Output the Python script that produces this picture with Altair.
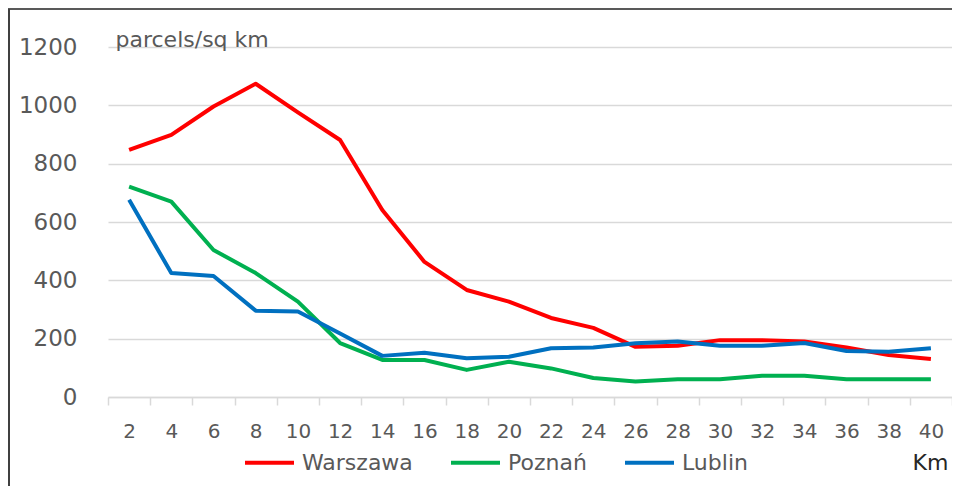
import altair as alt
import pandas as pd

km = list(range(2, 41, 2))
warszawa = [847, 899, 996, 1074, 976, 881, 641, 463, 367, 327, 271, 237, 172, 176, 195, 195, 190, 170, 144, 130]
poznan = [721, 670, 504, 425, 327, 185, 127, 127, 93, 121, 98, 65, 53, 61, 61, 73, 73, 61, 61, 61]
lublin = [676, 425, 415, 296, 293, 218, 141, 152, 133, 138, 167, 170, 184, 190, 176, 176, 185, 158, 155, 167]
series = ["Warszawa", "Poznań", "Lublin"]
colors = ["#ff0000", "#00b050", "#0070c0"]
y_ticks = [0, 200, 400, 600, 800, 1000, 1200]

rows = []
for name, vals in zip(series, [warszawa, poznan, lublin]):
    for k, v in zip(km, vals):
        rows.append({"km": k, "value": v, "city": name})
df = pd.DataFrame(rows)

FONT = "DejaVu Sans"

lines = alt.Chart(df).mark_line(strokeWidth=4, strokeJoin="round").encode(
    x=alt.X(
        "km:O",
        bandPosition=0.5,
        scale=alt.Scale(type="band", paddingInner=0, paddingOuter=0),
        axis=alt.Axis(
            title="Km", titleX=822, titleY=72, titleAlign="center", titleBaseline="alphabetic",
            titleFontSize=22, titleFontWeight="normal", titleColor="#262626",
            labelAngle=0, labelFontSize=20, labelColor="#595959", labelPadding=16,
            tickBand="extent", ticks=True, tickSize=8, tickColor="#d9d9d9", tickWidth=1.5,
            domainColor="#d9d9d9", domainWidth=1.5, grid=False,
        ),
    ),
    y=alt.Y(
        "value:Q",
        scale=alt.Scale(domain=[0, 1200], nice=False),
        axis=alt.Axis(
            values=y_ticks, format="d", title="parcels/sq km", titleAngle=0, titleAlign="left",
            titleBaseline="alphabetic", titleX=7, titleY=-1, titleFontSize=22,
            titleFontWeight="normal", titleColor="#595959",
            domain=False, ticks=False, grid=True, gridColor="#d9d9d9", gridWidth=1.5,
            labelPadding=31, labelFontSize=23, labelColor="#595959",
        ),
    ),
    color=alt.Color(
        "city:N",
        sort=series,
        scale=alt.Scale(domain=series, range=colors),
        legend=alt.Legend(
            title=None, orient="none", legendX=135, legendY=389, direction="horizontal",
            columns=3, symbolType="stroke", symbolSize=2401, symbolStrokeWidth=4,
            labelFontSize=22, labelColor="#595959", labelOffset=6, columnPadding=30, padding=0,
        ),
    ),
)

border_top = alt.Chart(pd.DataFrame({"k": [0]})).mark_rule(color="#595959", strokeWidth=2).encode(
    x=alt.value(-100), x2=alt.value(844), y=alt.value(-38)
)
border_left = alt.Chart(pd.DataFrame({"k": [0]})).mark_rule(color="#404040", strokeWidth=2).encode(
    x=alt.value(-99), y=alt.value(-38), y2=alt.value(440)
)

chart = alt.layer(lines, border_top, border_left).properties(
    width=844, height=350, autosize="none",
    padding={"left": 100, "top": 39, "right": 0, "bottom": 89},
).configure(font=FONT).configure_view(stroke=None)

chart.save("out.html", embed_options={"renderer": "svg", "actions": False})
